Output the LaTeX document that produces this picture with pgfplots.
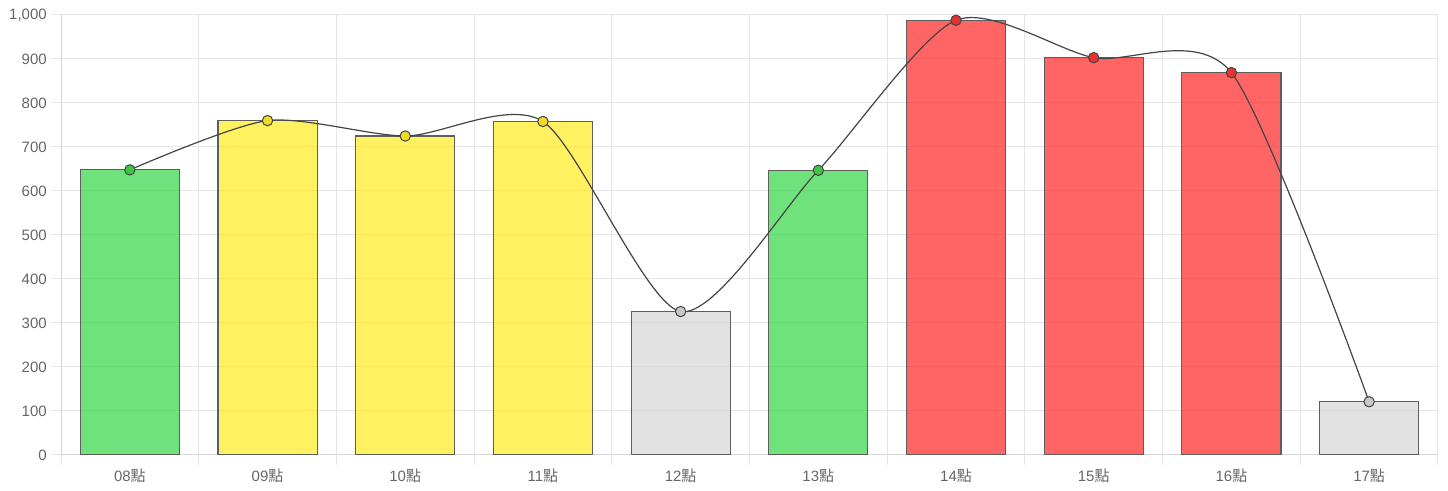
\documentclass[border=0pt]{standalone}
\usepackage{pgfplots}
\pgfplotsset{compat=1.18}
\usepackage{fontspec}
\setmainfont{Liberation Sans}
\newfontfamily\cjk{Noto Sans CJK TC}
\newcommand\dian{{\cjk 點}}
\definecolor{gridc}{HTML}{E6E6E6}
\definecolor{axisc}{HTML}{D6D6D6}
\definecolor{tickc}{HTML}{666666}
\definecolor{gbarc}{RGB}{51,214,69}
\definecolor{ybarc}{RGB}{255,235,28}
\definecolor{rbarc}{RGB}{255,36,36}
\definecolor{kbarc}{RGB}{213,213,213}
\definecolor{gmark}{RGB}{60,200,70}
\definecolor{ymark}{RGB}{240,220,40}
\definecolor{rmark}{RGB}{230,50,50}
\definecolor{kmark}{RGB}{200,200,200}
\definecolor{barb}{HTML}{5E5E5E}
\definecolor{linec}{HTML}{444444}
\begin{document}
\begin{tikzpicture}
\useasboundingbox (-45.75pt,-27pt) rectangle (1040.25pt,341.25pt);
\begin{axis}[
  at={(0,0)}, anchor=south west,
  width=1032.75pt, height=330pt, scale only axis,
  xmin=-0.5, xmax=9.5, ymin=0, ymax=1000,
  axis x line*=bottom, axis y line*=left,
  x axis line style={draw=axisc, line width=0.75pt},
  y axis line style={draw=axisc, line width=0.75pt},
  xtick={-0.5,0.5,...,9.5}, xticklabels={},
  ytick={0,100,...,1000},
  grid=major, grid style={draw=gridc, line width=0.75pt},
  tick align=outside, major tick length=7.5pt,
  tick style={draw=gridc, line width=0.75pt},
  extra x ticks={0,1,...,9},
  extra x tick labels={08\dian,09\dian,10\dian,11\dian,12\dian,13\dian,14\dian,15\dian,16\dian,17\dian},
  extra x tick style={grid=none, major tick length=0pt,
    xticklabel style={anchor=base, inner sep=0pt, yshift=-20.25pt}},
  yticklabel style={anchor=east, inner sep=0pt, xshift=-3pt},
  ticklabel style={font=\fontsize{11.25}{12}\selectfont, text=tickc},
  /pgf/number format/assume math mode=true,
  /pgf/number format/1000 sep={,},
  scaled y ticks=false,
]
% bars
\addplot[ybar, bar width=0.72, bar shift=0pt, fill=gbarc, fill opacity=0.7, draw=barb, line width=0.8pt]
  coordinates {(0,648) (5,647)};
\addplot[ybar, bar width=0.72, bar shift=0pt, fill=ybarc, fill opacity=0.7, draw=barb, line width=0.8pt]
  coordinates {(1,760) (2,725) (3,758)};
\addplot[ybar, bar width=0.72, bar shift=0pt, fill=rbarc, fill opacity=0.7, draw=barb, line width=0.8pt]
  coordinates {(6,988) (7,903) (8,869)};
\addplot[ybar, bar width=0.72, bar shift=0pt, fill=kbarc, fill opacity=0.7, draw=barb, line width=0.8pt]
  coordinates {(4,326) (9,121)};
% line
\addplot[smooth, tension=0.45, draw=linec, line width=0.9pt, mark=none]
  coordinates {(0,648) (1,760) (2,725) (3,758) (4,326) (5,647) (6,988) (7,903) (8,869) (9,121)};
% markers
\addplot[only marks, mark=*, mark size=3.9pt, mark options={fill=gmark, draw=linec, line width=0.75pt}]
  coordinates {(0,648) (5,647)};
\addplot[only marks, mark=*, mark size=3.9pt, mark options={fill=ymark, draw=linec, line width=0.75pt}]
  coordinates {(1,760) (2,725) (3,758)};
\addplot[only marks, mark=*, mark size=3.9pt, mark options={fill=rmark, draw=linec, line width=0.75pt}]
  coordinates {(6,988) (7,903) (8,869)};
\addplot[only marks, mark=*, mark size=3.9pt, mark options={fill=kmark, draw=linec, line width=0.75pt}]
  coordinates {(4,326) (9,121)};
\end{axis}
\end{tikzpicture}
\end{document}
